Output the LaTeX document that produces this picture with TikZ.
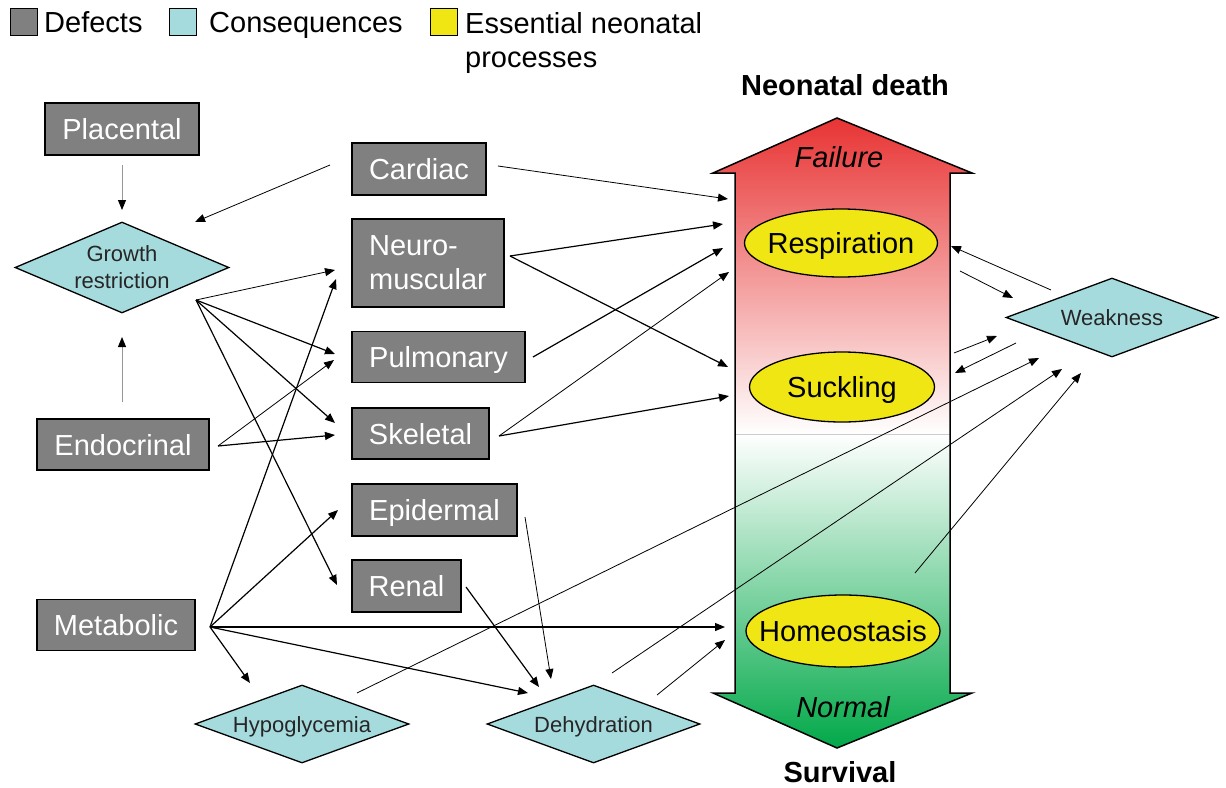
\documentclass[tikz,border=0pt]{standalone}
\usepackage{fontspec}
\setmainfont{Liberation Sans}
\usetikzlibrary{shapes.geometric,arrows.meta}
\definecolor{boxgray}{RGB}{128,128,128}
\definecolor{conscyan}{RGB}{166,219,222}
\definecolor{procyellow}{RGB}{240,230,20}
\definecolor{failred}{RGB}{232,50,50}
\definecolor{normgreen}{RGB}{0,168,72}
\definecolor{lightline}{RGB}{150,150,150}
\begin{document}
\begin{tikzpicture}[x=1pt,y=-1pt,
  defbox/.style={draw=black,line width=1.3pt,fill=boxgray,text=white,font=\fontsize{29}{34}\selectfont,inner sep=0pt,minimum height=52pt,text height=21pt,text depth=0pt},
  consq/.style={shape=diamond,draw=black,line width=1.3pt,fill=conscyan,inner sep=0pt,aspect=2.4,font=\fontsize{22}{27}\selectfont,text=black!85,text height=16pt,text depth=0pt},
  proc/.style={shape=ellipse,draw=black,line width=1.3pt,fill=procyellow,inner sep=0pt,font=\fontsize{29}{34}\selectfont,text height=21pt,text depth=0pt},
  legsq/.style={draw=black,line width=1pt,minimum width=27pt,minimum height=27pt,inner sep=0pt},
  legtxt/.style={font=\fontsize{29}{34}\selectfont,inner sep=0pt},
  ttl/.style={font=\fontsize{29}{34}\selectfont\bfseries,inner sep=0pt},
  itl/.style={font=\fontsize{29}{34}\selectfont\itshape,inner sep=0pt},
  arr/.style={-{Triangle[length=10pt,width=8pt]},line width=1.2pt,draw=black},
  thinarr/.style={arr,line width=0.8pt},
  greyarr/.style={-{Triangle[length=10pt,width=8pt,color=black]},line width=1pt,draw=lightline}
]
\useasboundingbox (0,0) rectangle (1226,787);

% ---------- legend
\node[legsq,fill=boxgray] (sqdef) at (23.5,21.5) {};
\node[legtxt,anchor=base west] (txdef) at (44,32.5) {Defects};
\node[legsq,fill=conscyan] (sqcons) at (183,21.5) {};
\node[legtxt,anchor=base west] (txcons) at (209,32.5) {Consequences};
\node[legsq,fill=procyellow] (sqproc) at (443.5,21.5) {};
\node[legtxt,anchor=north west,align=left] (txproc) at (465,12.5) {Essential neonatal\\processes};

% ---------- big double arrow
\begin{scope}
\clip (837,118) -- (972,173) -- (950,173) -- (950,693) -- (972,693) -- (837,748) -- (713,693) -- (735,693) -- (735,173) -- (713,173) -- cycle;
\shade[top color=failred,bottom color=white] (700,116) rectangle (990,434);
\shade[top color=white,bottom color=normgreen] (700,434) rectangle (990,750);
\draw[black!20,line width=0.6pt] (735,434) -- (950,434);
\end{scope}
\draw[line width=1.5pt,line join=miter] (837,118) -- (972,173) -- (950,173) -- (950,693) -- (972,693) -- (837,748) -- (713,693) -- (735,693) -- (735,173) -- (713,173) -- cycle;

\node[ttl] (death) at (845,85) {Neonatal death};
\node[ttl] (surv) at (840,772) {Survival};
\node[itl] (fail) at (839,157) {Failure};
\node[itl] (norm) at (843,707) {Normal};

% ---------- processes
\node[proc,minimum width=193pt,minimum height=68pt] (resp) at (841,243) {\makebox[0pt]{Respiration}};
\node[proc,minimum width=185pt,minimum height=70pt] (suck) at (842,387) {\makebox[0pt]{Suckling}};
\node[proc,minimum width=194pt,minimum height=72pt] (homeo) at (843,631) {\makebox[0pt]{Homeostasis}};

% ---------- defects
\node[defbox,minimum width=154pt] (plac) at (122,129) {Placental};
\node[defbox,minimum width=134pt] (card) at (419,169) {Cardiac};
\node[defbox,minimum width=152pt,minimum height=88pt,align=left,text height={},text depth={}] (neuro) at (428,263) {Neuro-\\muscular};
\node[defbox,minimum width=173pt,minimum height=51pt] (pulm) at (438.5,357) {Pulmonary};
\node[defbox,minimum width=137pt,minimum height=51pt] (skel) at (420.5,433.5) {Skeletal};
\node[defbox,minimum width=165pt] (epid) at (434.5,510) {Epidermal};
\node[defbox,minimum width=109pt] (renal) at (406.5,586) {Renal};
\node[defbox,minimum width=172pt,minimum height=51pt] (endo) at (123,444.5) {Endocrinal};
\node[defbox,minimum width=158pt,minimum height=51pt] (metab) at (116,625) {Metabolic};

% ---------- consequences
\node[consq,minimum width=214pt,minimum height=91pt,align=center,text height={},text depth={}] (gr) at (122,267.5) {Growth\\restriction};
\node[consq,minimum width=214pt,minimum height=78pt] (hypo) at (302,724) {Hypoglycemia};
\node[consq,minimum width=213pt,minimum height=78pt] (dehyd) at (593.5,724) {Dehydration};
\node[consq,minimum width=212pt,minimum height=79pt] (weak) at (1112,317.5) {Weakness};

% ---------- connector end points
\coordinate (placO) at (122,165);  \coordinate (grTop) at (122,210);
\coordinate (endoU) at (122,402);  \coordinate (grBot) at (122,337);
\coordinate (cardL) at (330,165);  \coordinate (grTR) at (195,222);
\coordinate (grO) at (196,300);
\coordinate (endoO) at (218,446);
\coordinate (metO) at (210,627);
\coordinate (neuroA) at (335,270); \coordinate (neuroB) at (336,279);
\coordinate (pulmA) at (335,354);  \coordinate (pulmB) at (334,360);
\coordinate (skelA) at (335,423);  \coordinate (skelB) at (335,435);
\coordinate (epidL) at (338,510);
\coordinate (renalL) at (337,585);
\coordinate (hypoT) at (250,683);
\coordinate (dehydA) at (528,693); \coordinate (dehydB) at (539,687); \coordinate (dehydC) at (551,679);
\coordinate (renalO) at (466,587);
\coordinate (epidO) at (525,517);
\coordinate (dehydO) at (657,695); \coordinate (dehydW) at (612,673);
\coordinate (hypoO) at (357,693);
\coordinate (homeoO) at (915,573);
\coordinate (homeoA) at (725,627); \coordinate (homeoB) at (725,640);
\coordinate (cardO) at (498,166);
\coordinate (neuroO) at (510,256);
\coordinate (pulmO) at (533,357);
\coordinate (skelO) at (499,436);
\coordinate (respA) at (728,199); \coordinate (respB) at (723,224);
\coordinate (respC) at (723,248); \coordinate (respD) at (729,272);
\coordinate (suckA) at (728,367); \coordinate (suckB) at (729,396);
\coordinate (weakA) at (1062,369); \coordinate (weakB) at (1039,358); \coordinate (weakC) at (1081,373);
\coordinate (weakO1) at (1051,290); \coordinate (respR) at (951,246);
\coordinate (respO) at (960,271);  \coordinate (weakL1) at (1013,298);
\coordinate (suckO) at (954,353);  \coordinate (weakL2) at (997,336);
\coordinate (weakO2) at (1016,343); \coordinate (suckR) at (955,373);

% ---------- connectors
\draw[greyarr] (placO) -- (grTop);
\draw[greyarr] (endoU) -- (grBot);
\draw[thinarr] (cardL) -- (grTR);
\draw[thinarr] (grO) -- (neuroA);
\draw[arr] (grO) -- (pulmA);
\draw[arr] (grO) -- (skelA);
\draw[arr] (grO) -- (renalL);
\draw[thinarr] (endoO) -- (pulmB);
\draw[arr] (endoO) -- (skelB);
\draw[arr] (metO) -- (neuroB);
\draw[arr] (metO) -- (epidL);
\draw[arr] (metO) -- (homeoA);
\draw[arr] (metO) -- (hypoT);
\draw[arr] (metO) -- (dehydA);
\draw[arr] (renalO) -- (dehydB);
\draw[thinarr] (epidO) -- (dehydC);
\draw[thinarr] (dehydO) -- (homeoB);
\draw[thinarr] (dehydW) -- (weakA);
\draw[thinarr] (hypoO) -- (weakB);
\draw[thinarr] (homeoO) -- (weakC);
\draw[thinarr] (cardO) -- (respA);
\draw[arr] (neuroO) -- (respB);
\draw[arr] (neuroO) -- (suckA);
\draw[arr] (pulmO) -- (respC);
\draw[thinarr] (skelO) -- (respD);
\draw[arr] (skelO) -- (suckB);
\draw[thinarr] (weakO1) -- (respR);
\draw[thinarr] (respO) -- (weakL1);
\draw[thinarr] (suckO) -- (weakL2);
\draw[thinarr] (weakO2) -- (suckR);
\end{tikzpicture}
\end{document}
